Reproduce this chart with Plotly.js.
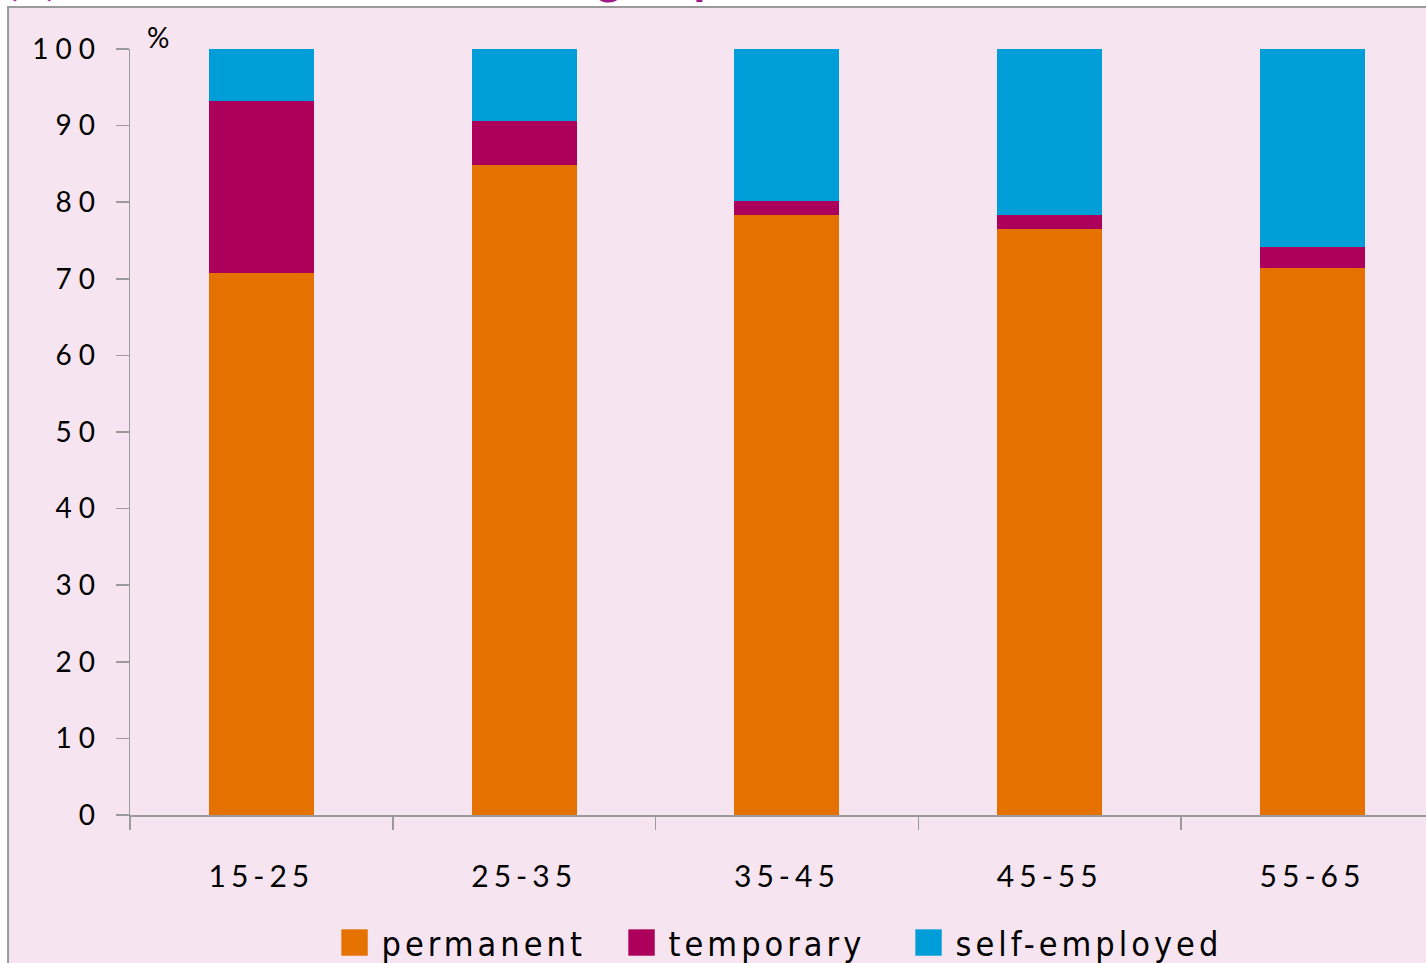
<!DOCTYPE html>
<html>
<head>
<meta charset="utf-8">
<script src="https://cdn.plot.ly/plotly-3.0.1.min.js"></script>
<style>
  html, body { margin: 0; padding: 0; background: #ffffff; }
  #chart { width: 1426px; height: 963px; }
  /* wide, airy tick and legend lettering (global so text measuring sees it too) */
  .xtick text { letter-spacing: 5px; }
  .ytick text { letter-spacing: 7px; }
  .legendtext { letter-spacing: 4px; }
  /* larger square swatches in the legend, sitting closer to their labels */
  #chart .legendpoints path { transform: translate(13px, 0) scale(2.2); }
  #chart .legend .scrollbox { clip-path: none !important; }
</style>
</head>
<body>
<div id="chart"></div>
<script>
// Age groups on the x axis
const ageGroups = ['15-25', '25-35', '35-45', '45-55', '55-65'];

// Share of workers by employment status, % of each age group
const permanent    = [70.8, 84.9, 78.3, 76.5, 71.4];
const temporary    = [22.4,  5.7,  1.8,  1.8,  2.8];
const selfEmployed = [ 6.8,  9.4, 19.9, 21.7, 25.8];

const seriesNames  = ['permanent', 'temporary', 'self-employed'];
const seriesColors = ['#e57100', '#ad005b', '#009ed9'];

const yTicks = [0, 10, 20, 30, 40, 50, 60, 70, 80, 90, 100];

const seriesValues = [permanent, temporary, selfEmployed];
const traces = seriesValues.map((vals, i) => ({
  type: 'bar',
  name: seriesNames[i],
  x: ageGroups,
  y: vals,
  marker: { color: seriesColors[i], line: { width: 0 } },
  hoverinfo: 'x+y+name'
}));

const axisGrey = '#9a9a9a';
const pink = '#f6e5f0';
const tickFamily = 'Lato, "Open Sans", sans-serif';

const layout = {
  width: 1426,
  height: 963,
  paper_bgcolor: '#ffffff',
  plot_bgcolor: 'rgba(0,0,0,0)',
  margin: { l: 130, r: 0, t: 49, b: 148, autoexpand: false },
  barmode: 'stack',
  bargap: 0.6,
  font: { family: tickFamily, color: '#000000' },
  xaxis: {
    type: 'category',
    range: [-0.5, 4.432],
    showline: true,
    linecolor: axisGrey,
    linewidth: 1.5,
    ticks: 'outside',
    tickson: 'boundaries',
    ticklen: 13,
    tickwidth: 1.5,
    tickcolor: axisGrey,
    showgrid: false,
    zeroline: false,
    ticklabelstandoff: 34,
    tickfont: { family: tickFamily, size: 30, color: '#000000' }
  },
  yaxis: {
    range: [0, 100],
    tickvals: yTicks,
    ticktext: yTicks.map(String),
    showline: true,
    linecolor: axisGrey,
    linewidth: 1.5,
    ticks: 'outside',
    ticklen: 13,
    tickwidth: 1.5,
    tickcolor: axisGrey,
    showgrid: false,
    zeroline: false,
    ticklabelstandoff: 8,
    tickfont: { family: tickFamily, size: 28, color: '#000000' }
  },
  legend: {
    orientation: 'h',
    traceorder: 'normal',
    entrywidth: 242,
    entrywidthmode: 'pixels',
    x: 0.4954,
    xanchor: 'center',
    y: -0.167,
    yanchor: 'middle',
    bgcolor: 'rgba(0,0,0,0)',
    font: { family: '"DejaVu Sans Condensed", "Liberation Sans Narrow", sans-serif', size: 34, color: '#000000' }
  },
  shapes: [{
    // pink panel with a grey frame behind the chart
    type: 'rect',
    xref: 'paper', yref: 'paper',
    x0: -0.0941, x1: 1.01,
    y0: -0.21, y1: 1.0548,
    fillcolor: pink,
    line: { color: axisGrey, width: 2 },
    layer: 'below'
  }],
  annotations: [
    {
      text: '%',
      xref: 'paper', yref: 'paper',
      x: 0.0115, y: 1.0157,
      xanchor: 'left', yanchor: 'middle',
      showarrow: false,
      font: { family: tickFamily, size: 28, color: '#000000' }
    },
    {
      text: '<b>(b) Distribution within each group</b>',
      xref: 'paper', yref: 'paper',
      x: -0.0975, y: 1.0565,
      xanchor: 'left', yanchor: 'bottom',
      showarrow: false,
      font: { family: tickFamily, size: 48, color: '#9e1a87' }
    }
  ]
};

Plotly.newPlot('chart', traces, layout, { displayModeBar: false, staticPlot: true });
</script>
</body>
</html>
